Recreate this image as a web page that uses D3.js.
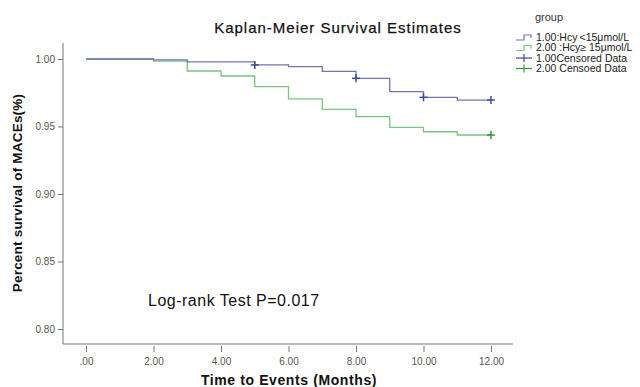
<!DOCTYPE html>
<html>
<head>
<meta charset="utf-8">
<script src="https://cdn.jsdelivr.net/npm/d3@7"></script>
<style>
  body { margin: 0; background: #fff; }
  svg { font-family: "Liberation Sans", Arial, sans-serif; }
</style>
</head>
<body>
<div id="chart"></div>
<script>
// step times (months) and survival of each group
var times = [0, 2, 3, 4, 5, 6, 7, 8, 9, 10, 11, 12];
var survLow = [1.000, 0.9993, 0.9978, 0.9978, 0.9956, 0.9943, 0.9909, 0.9857, 0.9758, 0.9716, 0.9696, 0.9696];
var survHigh = [1.000, 0.9985, 0.9911, 0.9874, 0.9796, 0.9704, 0.9627, 0.9573, 0.9494, 0.9461, 0.9437, 0.9437];
var censorLow = [5, 8, 10, 12];
var censorHigh = [12];
var xTicks = [0, 2, 4, 6, 8, 10, 12];
var yTicks = [0.80, 0.85, 0.90, 0.95, 1.00];
var legendLabels = ["1.00:Hcy\u2009<15\u03bcmol/L", "2.00 :Hcy\u2265 15\u03bcmol/L", "1.00Censored Data", "2.00 Censoed Data"];

var W = 640, H = 387;
var blue = "#7276b0", green = "#7cc47f", blueDark = "#3f4c9c", greenDark = "#2f9a3a";

var svg = d3.select("#chart").append("svg").attr("width", W).attr("height", H);

var x = d3.scaleLinear().domain([0, 12]).range([86, 491]);
var y = d3.scaleLinear().domain([0.80, 1.00]).range([329, 59]);

// axis frame
svg.append("line").attr("x1", 63).attr("x2", 63).attr("y1", 43).attr("y2", 344)
  .attr("stroke", "#777").attr("stroke-width", 1);
svg.append("line").attr("x1", 63).attr("x2", 513).attr("y1", 344).attr("y2", 344)
  .attr("stroke", "#777").attr("stroke-width", 1);

var gx = svg.append("g").attr("transform", "translate(0,346)")
  .call(d3.axisBottom(x).tickValues(xTicks).tickSize(6).tickSizeOuter(0).tickPadding(6)
    .tickFormat(function(d) { return d === 0 ? ".00" : d.toFixed(2); }));
gx.select(".domain").remove();

var gy = svg.append("g").attr("transform", "translate(63,0)")
  .call(d3.axisLeft(y).tickValues(yTicks).tickSize(5).tickSizeOuter(0).tickPadding(3)
    .tickFormat(function(d) { return d.toFixed(2); }));
gy.select(".domain").remove();

svg.selectAll(".tick line").attr("stroke", "#777");
svg.selectAll(".tick text").attr("fill", "#555").style("font-size", "10px")
  .style("font-family", "'Liberation Sans', Arial, sans-serif");

// step curves
var line = d3.line()
  .x(function(d) { return x(d[0]); })
  .y(function(d) { return y(d[1]); })
  .curve(d3.curveStepAfter);

function stepAt(t, surv) {
  var i = d3.bisectRight(times, t) - 1;
  return surv[Math.max(0, i)];
}

var groups = [
  { surv: survLow, censor: censorLow, color: blue, mark: blueDark },
  { surv: survHigh, censor: censorHigh, color: green, mark: greenDark }
];

groups.slice().reverse().forEach(function(g) {
  svg.append("path")
    .datum(times.map(function(t, i) { return [t, g.surv[i]]; }))
    .attr("fill", "none").attr("stroke", g.color).attr("stroke-width", 1.3)
    .attr("d", line);
});

groups.forEach(function(g) {
  var m = svg.append("g").selectAll("g").data(g.censor).enter().append("g")
    .attr("transform", function(t) { return "translate(" + x(t) + "," + y(stepAt(t, g.surv)) + ")"; });
  m.append("line").attr("x1", -4).attr("x2", 4).attr("y1", 0).attr("y2", 0)
    .attr("stroke", g.mark).attr("stroke-width", 1.5);
  m.append("line").attr("x1", 0).attr("x2", 0).attr("y1", -4).attr("y2", 4)
    .attr("stroke", g.mark).attr("stroke-width", 1.5);
});

// titles
svg.append("text").attr("x", 338).attr("y", 33).attr("text-anchor", "middle")
  .style("font-size", "15px").style("letter-spacing", "1px").attr("fill", "#111")
  .attr("stroke", "#111").attr("stroke-width", 0.25)
  .text("Kaplan-Meier Survival Estimates");

svg.append("text").attr("x", 289).attr("y", 385).attr("text-anchor", "middle")
  .style("font-size", "14px").style("font-weight", "bold").style("letter-spacing", "0.6px").attr("fill", "#111")
  .text("Time to Events (Months)");

svg.append("text").attr("transform", "translate(22,193) rotate(-90)").attr("text-anchor", "middle")
  .style("font-size", "13.5px").style("font-weight", "bold").style("letter-spacing", "0.2px").attr("fill", "#111")
  .text("Percent survival of MACEs(%)");

svg.append("text").attr("x", 148).attr("y", 306)
  .style("font-size", "16px").style("letter-spacing", "0.5px").attr("fill", "#111")
  .text("Log-rank Test P=0.017");

// legend
svg.append("text").attr("x", 549).attr("y", 21).attr("text-anchor", "middle")
  .style("font-size", "11px").attr("fill", "#333").text("group");

var leg = svg.append("g").selectAll("g").data(legendLabels).enter().append("g")
  .attr("transform", function(d, i) { return "translate(516," + (37 + i * 10.5) + ")"; });

leg.each(function(d, i) {
  var g = d3.select(this);
  if (i < 2) {
    g.append("path").attr("d", "M0,3H8V-2H15V1").attr("fill", "none")
      .attr("stroke", i === 0 ? blue : green).attr("stroke-width", 1.2);
  } else {
    var c = i === 2 ? blueDark : greenDark;
    g.append("line").attr("x1", 0).attr("x2", 16).attr("y1", 0).attr("y2", 0).attr("stroke", c).attr("stroke-width", 1.2);
    g.append("line").attr("x1", 8).attr("x2", 8).attr("y1", -4).attr("y2", 4).attr("stroke", c).attr("stroke-width", 1.2);
  }
  g.append("text").attr("x", 20).attr("y", 3.5).style("font-size", "10.5px").attr("fill", "#222").text(d);
});
</script>
</body>
</html>
